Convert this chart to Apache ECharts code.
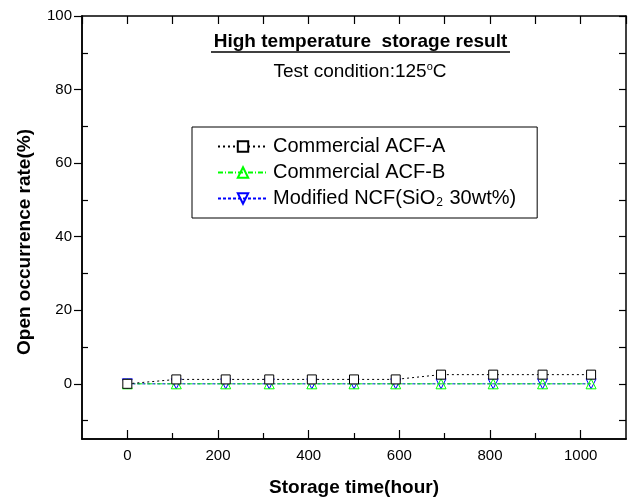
<!DOCTYPE html>
<html>
<head>
<meta charset="utf-8">
<script src="https://cdn.jsdelivr.net/npm/echarts@6/dist/echarts.min.js"></script>
<style>html,body{margin:0;padding:0;background:#fff}#c{width:634px;height:500px}</style>
</head>
<body>
<div id="c"></div>
<script>
var hours = [0, 108, 217, 313, 407, 500, 592, 692, 807, 916, 1023];
var acfA = [0, 1.2, 1.2, 1.2, 1.2, 1.2, 1.2, 2.5, 2.5, 2.5, 2.5];
var acfB = [0, 0, 0, 0, 0, 0, 0, 0, 0, 0, 0];
var ncf = [0, 0, 0, 0, 0, 0, 0, 0, 0, 0, 0];
var seriesNames = ['Commercial ACF-A', 'Commercial ACF-B', 'Modified NCF(SiO2 30wt%)'];
var xMajor = [0, 200, 400, 600, 800, 1000];
var xMinor = [100, 300, 500, 700, 900];
var xAll = [-100, 0, 100, 200, 300, 400, 500, 600, 700, 800, 900, 1000, 1100];
var yMajor = [0, 20, 40, 60, 80, 100];
var yMinor = [-10, 10, 30, 50, 70, 90];
var yAll = [-10, 0, 10, 20, 30, 40, 50, 60, 70, 80, 90, 100];

function pairs(xs, ys) { return xs.map(function (x, i) { return [x, ys[i]]; }); }

var FONT = '"Liberation Sans", Arial, sans-serif';
var axisLine = { show: true, onZero: false, lineStyle: { color: '#000', width: 1.5 } };
var tickStyle = { color: '#000', width: 1.2 };
var plain = function (v) { return String(v); };
var chart = echarts.init(document.getElementById('c'), null, { renderer: 'canvas' });
var option = {
  animation: false,
  backgroundColor: '#fff',
  textStyle: { fontFamily: FONT },
  grid: { left: 82, right: 8, top: 16, bottom: 61, containLabel: false, outerBoundsMode: 'none' },
  xAxis: [
    { type: 'value', position: 'bottom', min: -100, max: 1100,
      name: 'Storage time(hour)', nameLocation: 'middle', nameGap: 39,
      nameTextStyle: { fontFamily: FONT, fontSize: 19, fontWeight: 'bold', color: '#000' },
      axisLine: axisLine, splitLine: { show: false },
      axisTick: { inside: true, length: 9, customValues: xMajor, lineStyle: tickStyle },
      axisLabel: { customValues: xMajor, formatter: plain, margin: 9, fontSize: 15, color: '#000', fontFamily: FONT } },
    { type: 'value', position: 'bottom', min: -100, max: 1100,
      axisLine: axisLine, splitLine: { show: false },
      axisTick: { inside: true, length: 6, customValues: xMinor, lineStyle: tickStyle },
      axisLabel: { show: false } },
    { type: 'value', position: 'top', min: -100, max: 1100,
      axisLine: axisLine, splitLine: { show: false },
      axisTick: { inside: true, length: 8, customValues: xAll, lineStyle: tickStyle },
      axisLabel: { show: false } }
  ],
  yAxis: [
    { type: 'value', position: 'left', min: -15, max: 100,
      axisLine: axisLine, splitLine: { show: false },
      axisTick: { inside: false, length: 8, customValues: yMajor, lineStyle: tickStyle },
      axisLabel: { customValues: yMajor, formatter: plain, margin: 10, fontSize: 15, color: '#000', fontFamily: FONT } },
    { type: 'value', position: 'left', min: -15, max: 100,
      axisLine: axisLine, splitLine: { show: false },
      axisTick: { inside: true, length: 6, customValues: yMinor, lineStyle: tickStyle },
      axisLabel: { show: false } },
    { type: 'value', position: 'right', min: -15, max: 100,
      axisLine: axisLine, splitLine: { show: false },
      axisTick: { inside: true, length: 7, customValues: yAll, lineStyle: tickStyle },
      axisLabel: { show: false } }
  ],
  legend: {
    orient: 'vertical', left: 192, top: 127,
    padding: [9, 21, 9, 25],
    borderColor: '#000', borderWidth: 1,
    itemWidth: 50, itemHeight: 13, itemGap: 5,
    data: seriesNames,
    formatter: function (n) {
      if (n.indexOf('SiO2') >= 0) return '{t|Modified NCF(SiO}{s|2}{t| 30wt%)}';
      return '{t|' + n + '}';
    },
    textStyle: { fontFamily: FONT, fontSize: 20, color: '#000', lineHeight: 21,
      rich: { t: { fontFamily: FONT, fontSize: 20, color: '#000', lineHeight: 21 },
              s: { fontFamily: FONT, fontSize: 12, color: '#000', verticalAlign: 'bottom', lineHeight: 21, padding: [0, 1, 0, 1] } } }
  },
  graphic: [
    { type: 'text', x: 360.5, y: 42, style: { text: 'High temperature  storage result',
        font: 'bold 19px ' + FONT, fill: '#000', align: 'center', verticalAlign: 'middle' } },
    { type: 'line', shape: { x1: 211, y1: 52, x2: 510, y2: 52 }, style: { stroke: '#000', lineWidth: 1.5 } },
    { type: 'text', x: 360, y: 72, style: { text: '{a|Test condition:125}{b|o}{a|C}', align: 'center', verticalAlign: 'middle',
        rich: { a: { fontFamily: FONT, fontSize: 19, fill: '#000', lineHeight: 22 },
                b: { fontFamily: FONT, fontSize: 11, fill: '#000', verticalAlign: 'top', lineHeight: 22 } } } },
    { type: 'text', x: 25, y: 242, rotation: Math.PI / 2,
      style: { text: 'Open occurrence rate(%)', font: 'bold 19px ' + FONT, fill: '#000', align: 'center', verticalAlign: 'middle' } }
  ],
  series: [
    { name: seriesNames[0], type: 'line', data: pairs(hours, acfA),
      symbol: 'rect', symbolSize: 9, itemStyle: { color: '#fff', borderColor: '#000', borderWidth: 1 },
      lineStyle: { color: '#000', width: 1, type: [2, 3] }, color: '#000', z: 5 },
    { name: seriesNames[1], type: 'line', data: pairs(hours, acfB),
      symbol: 'triangle', symbolSize: 10, itemStyle: { color: 'rgba(255,255,255,0)', borderColor: '#00ff00', borderWidth: 1 },
      lineStyle: { color: '#00ff00', width: 1, type: [5, 2, 1, 2] }, color: '#00ff00', z: 4 },
    { name: seriesNames[2], type: 'line', data: pairs(hours, ncf),
      symbol: 'triangle', symbolRotate: 180, symbolSize: 10, itemStyle: { color: 'rgba(255,255,255,0)', borderColor: '#0000ff', borderWidth: 1 },
      lineStyle: { color: '#0000ff', width: 1, type: [3, 2] }, color: '#0000ff', z: 3 }
  ]
};
chart.setOption(option);
</script>
</body>
</html>
